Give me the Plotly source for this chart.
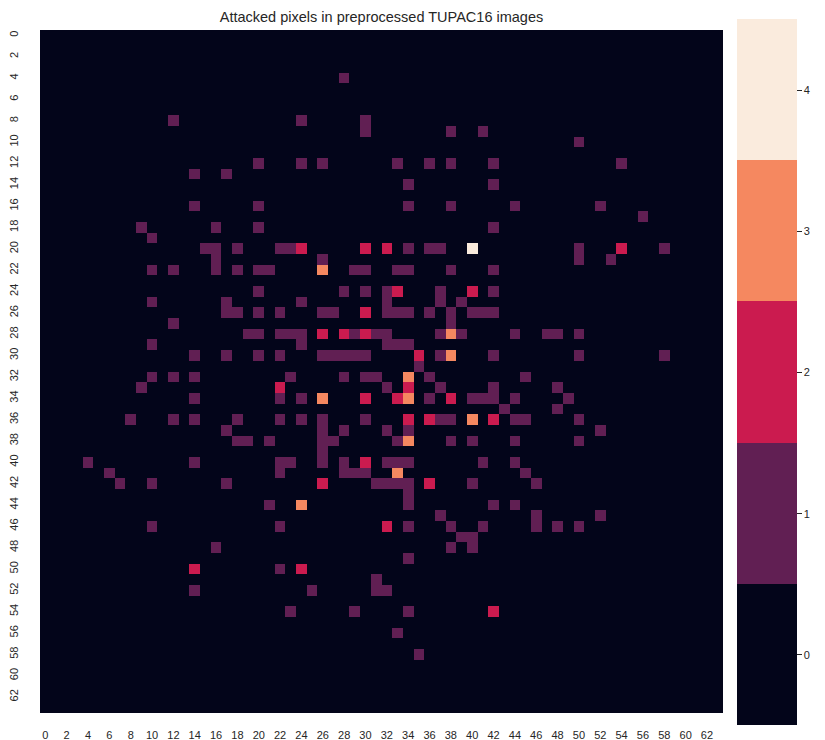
import numpy as np
import plotly.graph_objects as go

# Image grid size
N = 64

# Attack counts per pixel: {row: [columns]} for each count level
ones = {
    4: [28],
    8: [12, 24, 30],
    9: [30, 38, 41],
    10: [50],
    12: [20, 24, 26, 33, 36, 38, 42, 54],
    13: [14, 17],
    14: [34, 42],
    16: [14, 20, 34, 38, 44, 52],
    17: [56],
    18: [9, 16, 20, 42],
    19: [10],
    20: [15, 16, 18, 22, 23, 34, 36, 37, 50, 58],
    21: [16, 26, 50, 53],
    22: [10, 12, 16, 18, 20, 21, 29, 30, 33, 34, 38, 42],
    24: [20, 28, 30, 32, 37, 42],
    25: [10, 17, 24, 32, 37, 39],
    26: [17, 18, 20, 22, 26, 27, 32, 33, 34, 36, 38, 40, 41, 42],
    27: [12, 38],
    28: [19, 20, 22, 23, 24, 29, 31, 32, 37, 39, 44, 47, 48, 50],
    29: [10, 24, 32, 33, 34],
    30: [14, 17, 20, 22, 26, 27, 28, 29, 30, 37, 42, 50, 58],
    31: [35],
    32: [10, 12, 14, 23, 28, 30, 31, 36, 45],
    33: [9, 32, 37, 42, 48],
    34: [14, 22, 24, 36, 40, 41, 42, 44, 49],
    35: [43, 48],
    36: [8, 12, 14, 18, 22, 24, 26, 30, 37, 38, 44, 45, 50],
    37: [17, 26, 28, 32, 34, 52],
    38: [18, 19, 21, 26, 27, 33, 38, 40, 44, 50],
    39: [26],
    40: [4, 14, 22, 23, 26, 28, 32, 33, 34, 41, 44],
    41: [6, 22, 28, 29, 30, 45],
    42: [7, 10, 17, 31, 32, 33, 34, 40, 46],
    43: [34],
    44: [21, 34, 42, 44],
    45: [37, 46, 52],
    46: [10, 22, 34, 38, 41, 46, 48, 50],
    47: [39, 40],
    48: [16, 38, 40],
    49: [34],
    50: [22],
    51: [31],
    52: [14, 25, 31, 32],
    54: [23, 29, 34],
    56: [33],
    58: [35],
}
twos = {
    20: [24, 30, 32, 54],
    24: [33, 40],
    26: [30],
    28: [26, 28, 30],
    30: [35],
    33: [22, 34],
    34: [30, 33, 38],
    36: [34, 36, 42],
    40: [30],
    42: [26, 36],
    46: [32],
    50: [14, 24],
    54: [42],
}
threes = {
    22: [26],
    28: [38],
    30: [38],
    32: [34],
    34: [26, 34],
    36: [40],
    38: [34],
    41: [33],
    44: [24],
}
fours = {20: [40]}

tick_labels = list(range(0, N, 2))
level_colors = ["#03051A", "#611F53", "#CB1B4F", "#F58860", "#FAEBDD"]

z = np.zeros((N, N), dtype=int)
for level, cells in ((1, ones), (2, twos), (3, threes), (4, fours)):
    for r, cols in cells.items():
        for c in cols:
            z[r, c] = level

# Discrete colour bands centred on the integer levels
k = len(level_colors)
colorscale = []
for i, col in enumerate(level_colors):
    colorscale.append([i / k, col])
    colorscale.append([(i + 1) / k, col])

fig = go.Figure(
    go.Heatmap(
        z=z,
        x=list(range(N)),
        y=list(range(N)),
        zmin=-0.5,
        zmax=4.5,
        colorscale=colorscale,
        colorbar=dict(
            x=(737 - 40) / 683,
            xanchor="left",
            xpad=0,
            y=0.5 - 1.0 / 683,
            yanchor="middle",
            ypad=0,
            lenmode="pixels",
            len=706,
            thicknessmode="pixels",
            thickness=60,
            outlinewidth=0,
            tickvals=[0, 1, 2, 3, 4],
            ticks="outside",
            ticklen=5,
            tickcolor="#262626",
            tickprefix="\u00a0\u00a0\u00a0\u00a0",
            tickfont=dict(size=11, color="#262626"),
        ),
    )
)

fig.update_layout(
    width=825,
    height=740,
    margin=dict(l=40, r=102, t=30, b=27, autoexpand=False),
    paper_bgcolor="white",
    plot_bgcolor="white",
    font=dict(family="Liberation Sans, Arial, sans-serif", color="#262626"),
    title=dict(
        text="Attacked pixels in preprocessed TUPAC16 images",
        x=(40 + 723) / 2 / 825,
        xanchor="center",
        xref="container",
        yref="container",
        y=1 - 17 / 740,
        yanchor="middle",
        font=dict(size=14.5, color="#262626"),
    ),
    xaxis=dict(
        range=[-0.5, N - 0.5],
        tickvals=tick_labels,
        ticktext=[str(t) for t in tick_labels],
        tickangle=0,
        showgrid=False,
        zeroline=False,
        showline=False,
        automargin=False,
        ticks="outside",
        ticklen=12,
        tickcolor="rgba(0,0,0,0)",
        tickfont=dict(size=11, color="#262626"),
    ),
    yaxis=dict(
        range=[N - 0.5, -0.5],
        tickvals=tick_labels,
        ticktext=[str(t) for t in tick_labels],
        tickangle=-90,
        showgrid=False,
        zeroline=False,
        showline=False,
        automargin=False,
        ticks="outside",
        ticklen=17,
        tickcolor="rgba(0,0,0,0)",
        tickfont=dict(size=11, color="#262626"),
    ),
)

fig.write_html("out.html")
